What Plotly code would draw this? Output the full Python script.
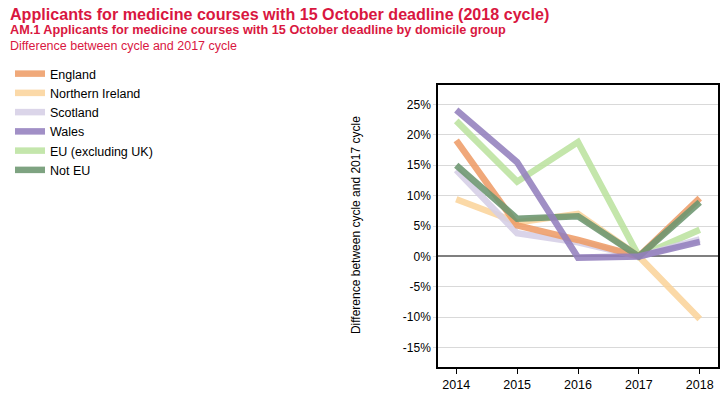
import plotly.graph_objects as go

years = [2014, 2015, 2016, 2017, 2018]
england = [19.1, 5.1, 2.7, 0.0, 9.6]
northern_ireland = [9.4, 5.6, 7.0, 0.0, -10.3]
scotland = [14.2, 3.8, 2.3, 0.0, 2.8]
wales = [24.1, 15.5, -0.2, 0.0, 2.4]
eu = [22.3, 12.3, 18.8, 0.0, 4.4]
not_eu = [15.0, 6.2, 6.6, 0.0, 8.9]

series = [
    ("England", england, "#EE9D68", 1),
    ("Northern Ireland", northern_ireland, "#FBD49C", 2),
    ("Scotland", scotland, "#D6CFE6", 3),
    ("Wales", wales, "#9480BE", 4),
    ("EU (excluding UK)", eu, "#BCE3A0", 5),
    ("Not EU", not_eu, "#6C9670", 6),
]
draw_order = ["EU (excluding UK)", "Northern Ireland", "Scotland", "England", "Not EU", "Wales"]

W, H = 726, 398
L, R, T, B = 438, 720, 85, 368

fig = go.Figure()
lookup = {s[0]: s for s in series}
for name in draw_order:
    n, vals, col, rank = lookup[name]
    fig.add_trace(go.Scatter(
        x=years, y=vals, name=n, mode="lines",
        line=dict(color=col, width=6.5),
        opacity=0.88, legendrank=rank,
    ))

red = "#D9173F"
font = "Liberation Sans"

def px(xp):
    return (xp - L) / (R - L)

def py(yp):
    return (B - yp) / (B - T)

annotations = [
    dict(text="<b>Applicants for medicine courses with 15 October deadline (2018 cycle)</b>",
         x=px(5), y=py(14), xanchor="left", yanchor="middle",
         font=dict(size=16.1, color=red, family=font)),
    dict(text="<b>AM.1 Applicants for medicine courses with 15 October deadline by domicile group</b>",
         x=px(5), y=py(30), xanchor="left", yanchor="middle",
         font=dict(size=12.7, color=red, family=font)),
    dict(text="Difference between cycle and 2017 cycle",
         x=px(5), y=py(46), xanchor="left", yanchor="middle",
         font=dict(size=12.5, color=red, family=font)),
    dict(text="Difference between cycle and 2017 cycle",
         x=px(355), y=py(226), xanchor="center", yanchor="middle", textangle=-90,
         font=dict(size=12, color="#000000", family=font)),
]
for a in annotations:
    a.update(xref="paper", yref="paper", showarrow=False)

fig.update_layout(
    width=W, height=H,
    margin=dict(l=L, r=W - R, t=T, b=H - B, pad=0),
    paper_bgcolor="white", plot_bgcolor="white",
    showlegend=True,
    legend=dict(
        xref="container", yref="container",
        x=10 / W, y=1 - 59 / H, xanchor="left", yanchor="top",
        font=dict(size=12.5, family=font, color="#000000"),
        tracegroupgap=0, itemwidth=30, bgcolor="rgba(0,0,0,0)",
    ),
    annotations=annotations,
    xaxis=dict(
        range=[2013.7, 2018.3], tickvals=years, ticktext=[str(y) for y in years],
        showgrid=False, showline=True, linecolor="#000000", linewidth=1.5, mirror=True,
        ticks="outside", ticklen=5, tickcolor="#000000",
        tickfont=dict(size=12.5, family=font, color="#000000"), zeroline=False,
    ),
    yaxis=dict(
        range=[-18.2, 28.2], tickvals=[-15, -10, -5, 0, 5, 10, 15, 20, 25],
        ticktext=["-15%", "-10%", "-5%", "0%", "5%", "10%", "15%", "20%", "25%"],
        showgrid=True, gridcolor="#D9D9D9", gridwidth=1,
        zeroline=True, zerolinecolor="#7F7F7F", zerolinewidth=1.5,
        showline=True, linecolor="#000000", linewidth=1.5, mirror=True,
        ticks="outside", ticklen=3, tickcolor="#D9D9D9",
        tickfont=dict(size=12, family=font, color="#000000"),
    ),
)

fig.write_html("out.html", config={"displayModeBar": False},
               post_script="document.body.style.margin='0px';")
